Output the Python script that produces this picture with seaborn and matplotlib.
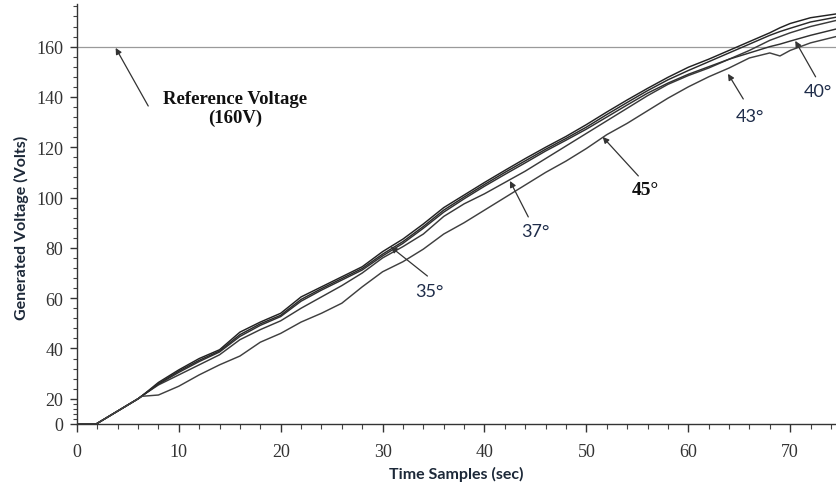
import numpy as np
import pandas as pd
import matplotlib
matplotlib.use("Agg")
import matplotlib.pyplot as plt
from matplotlib.ticker import MultipleLocator, FixedLocator
import seaborn as sns

# ---------------- data ----------------
time_s = [0, 1.9, 6, 6.4, 8, 10, 12, 14, 16, 18, 20, 22, 24, 26, 28, 30, 32, 34, 36,
          38, 40, 42, 44, 46, 48, 50, 52, 54, 56, 58, 60, 62, 64, 66, 68, 69, 70, 72, 74.5]

v_35 = [0, 0, 20, 21.2, 26.5, 31.5, 36, 39.5, 46.5, 50.5, 54, 60.5, 64.5, 68.5, 72.5, 78.5,
        83.5, 89.5, 96, 101, 106, 110.8, 115.5, 120, 124.3, 129, 134, 138.8, 143.4, 147.8,
        151.8, 155, 158.5, 162, 165.5, 167.5, 169.2, 171.5, 173]
v_37 = [0, 0, 20, 21.2, 25.5, 29.5, 33.5, 37.5, 43.5, 47.5, 51, 56, 60.5, 65, 70, 76,
        80.5, 85.5, 92.5, 97.5, 101.5, 106, 110.5, 115.5, 120.5, 125.5, 130.5, 135.5, 140.5,
        145, 148.5, 151.5, 155, 158.5, 162.5, 164, 165.5, 168, 170.4]
v_40 = [0, 0, 20, 21.2, 25.8, 30.5, 34.8, 38.6, 44.8, 49.2, 52.7, 58.8, 63.2, 67.2, 71.2,
        76.8, 81.8, 87.8, 94.2, 99.5, 104.5, 109.2, 113.8, 118.5, 122.8, 127.2, 132, 136.8,
        141.5, 145.5, 149, 152, 155, 157.5, 160, 161, 162.2, 164.5, 167]
v_43 = [0, 0, 20, 21.2, 26, 31, 35.3, 39, 45.5, 49.8, 53.2, 59.5, 63.8, 67.8, 71.8, 77.5,
        82.5, 88.5, 95, 100.2, 105.2, 110, 114.6, 119.2, 123.5, 128, 133, 137.8, 142.5,
        146.8, 150.5, 154, 157.5, 161, 164.5, 166, 167.3, 169.8, 171.7]
v_45 = [0, 0, 20, 21, 21.5, 25, 29.5, 33.5, 37, 42.5, 46, 50.5, 54, 58, 64.5, 70.5, 74.5,
        79.5, 85.5, 90, 95, 100, 105, 110, 114.5, 119.5, 125, 129.5, 134.5, 139.5, 144, 148,
        151.5, 155.5, 157.5, 156.3, 158.5, 161.5, 164]

angles = ["35°", "37°", "40°", "43°", "45°"]
reference_voltage = 160
y_ticks = [0, 20, 40, 60, 80, 100, 120, 140, 160]
x_ticks = [0, 10, 20, 30, 40, 50, 60, 70]

frames = []
for name, vals in zip(angles, [v_35, v_37, v_40, v_43, v_45]):
    frames.append(pd.DataFrame({"time": time_s, "voltage": vals, "angle": name}))
df = pd.concat(frames, ignore_index=True)

# ---------------- style ----------------
sns.set_style("white")
plt.rcParams["font.family"] = ["Liberation Serif", "DejaVu Serif"]

fig = plt.figure(figsize=(8.36, 4.89), dpi=100)
ax = fig.add_axes([0.092, 0.131, 0.908, 0.859])

# the scanned axis has its 0-20 band drawn at half scale
def fwd(v):
    v = np.asarray(v, dtype=float)
    return np.where(v < 20, 10 + v / 2.0, v)

def inv(u):
    u = np.asarray(u, dtype=float)
    return np.where(u < 20, (u - 10) * 2.0, u)

ax.set_yscale("function", functions=(fwd, inv))

sns.lineplot(data=df, x="time", y="voltage", hue="angle",
             palette=["#222222", "#3a3a3a", "#303030", "#2a2a2a", "#404040"],
             estimator=None, sort=False, legend=False, linewidth=1.05, ax=ax)

ax.axhline(reference_voltage, color="#9a9a9a", lw=0.9, zorder=1)

ax.set_xlim(0, 74.5)
ax.set_ylim(0, 177)
ax.yaxis.set_major_locator(FixedLocator(y_ticks))
ax.yaxis.set_minor_locator(MultipleLocator(4))
ax.xaxis.set_major_locator(FixedLocator(x_ticks))
ax.xaxis.set_minor_locator(MultipleLocator(2))
ax.set_yticklabels([str(t) for t in y_ticks])
ax.set_xticklabels([str(t) for t in x_ticks])

for s in ["top", "right"]:
    ax.spines[s].set_visible(False)
for s in ["left", "bottom"]:
    ax.spines[s].set_color("#333333")
    ax.spines[s].set_linewidth(1.0)

ax.tick_params(axis="y", which="major", direction="out", length=5, width=1,
               color="#333333", pad=5, labelsize=13, labelcolor="#333333", left=True)
ax.tick_params(axis="y", which="minor", direction="out", length=3, width=0.8,
               color="#444444", left=True)
ax.tick_params(axis="x", which="major", direction="out", length=6, width=1,
               color="#333333", pad=8, labelsize=13, labelcolor="#333333", bottom=True)
ax.tick_params(axis="x", which="minor", direction="out", length=3.5, width=0.8,
               color="#444444", bottom=True)

lab_font = dict(family=["Lato", "DejaVu Sans"], weight="bold", size=11.5, color="#1c2838")
ax.set_xlabel("Time Samples (sec)", labelpad=4, **lab_font)
ax.set_ylabel("Generated Voltage (Volts)", labelpad=6, **lab_font)
ax.yaxis.set_label_coords(-0.063, 0.47)

arrow = dict(arrowstyle="-|>", color="#333333", lw=0.9, mutation_scale=9,
             shrinkA=0, shrinkB=0)

ax.annotate("", xy=(3.8, 159.5), xytext=(7.0, 136.4), arrowprops=arrow)
ax.text(15.5, 135.5, "Reference Voltage\n(160V)", ha="center", va="center",
        family=["Liberation Serif", "DejaVu Serif"], weight="bold", size=13.5,
        color="#111111", linespacing=1.15)

deg_font = dict(family=["Lato", "DejaVu Sans"], size=13, color="#1f2d4a")
notes = [
    ("35°", (30.8, 80.4), (34.4, 68.8), (34.6, 62.8), deg_font),
    ("37°", (42.5, 106.6), (44.3, 92.3), (45.0, 86.7), deg_font),
    ("43°", (63.9, 149.2), (65.4, 139.2), (66.1, 132.5), deg_font),
    ("40°", (70.5, 162.3), (72.5, 148.0), (72.7, 142.4), deg_font),
    ("45°", (51.6, 124.1), (55.1, 108.6), (55.8, 103.4),
     dict(family=["Liberation Serif", "DejaVu Serif"], weight="bold", size=14,
          color="#111111")),
]
for txt, tip, tail, pos, fnt in notes:
    ax.annotate("", xy=tip, xytext=tail, arrowprops=arrow)
    ax.text(pos[0], pos[1], txt, ha="center", va="center", **fnt)

fig.savefig("out.png", dpi=100)
